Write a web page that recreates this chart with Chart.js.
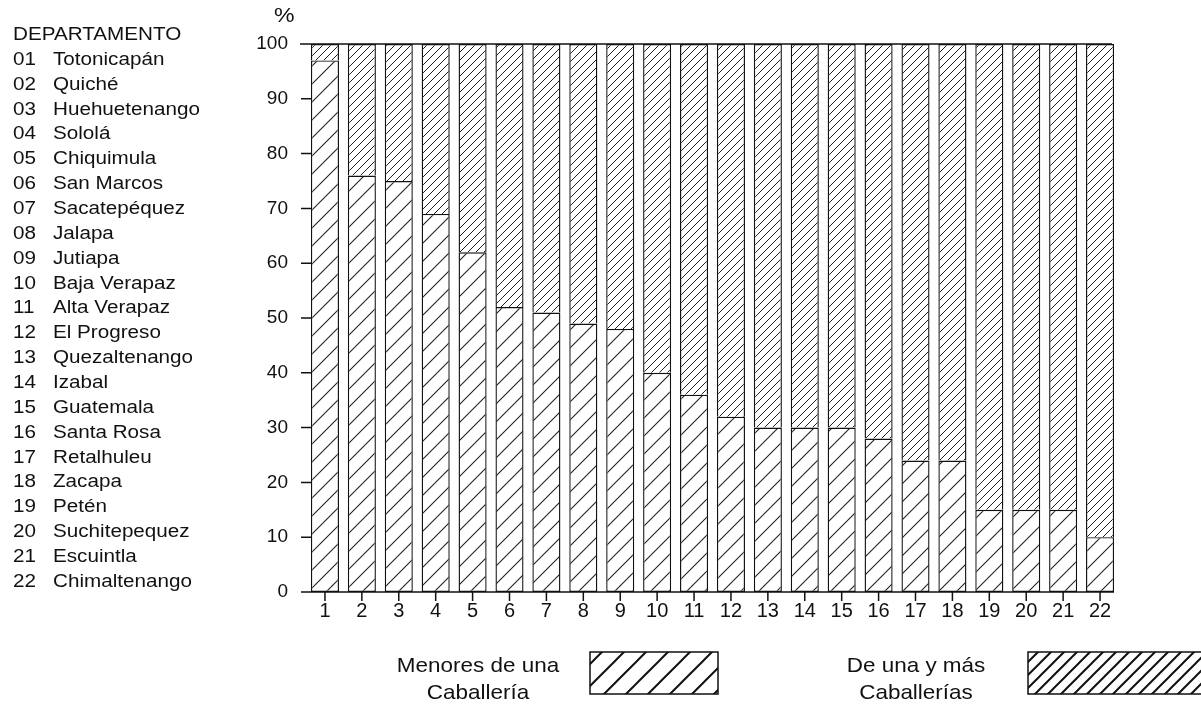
<!DOCTYPE html>
<html>
<head>
<meta charset="utf-8">
<script src="https://cdn.jsdelivr.net/npm/chart.js@4.4.0/dist/chart.umd.min.js"></script>
<style>
html, body { margin: 0; padding: 0; background: #fff; }
body { width: 1201px; height: 727px; position: relative; overflow: hidden;
       font-family: "Liberation Sans", Arial, Helvetica, sans-serif; color: #111; }
#chart { position: absolute; left: 0; top: 0; }
.row { position: absolute; left: 0; height: 24.86px; line-height: 24.86px; font-size: 17.5px; white-space: nowrap; }
.row span { position: absolute; top: 0; transform: scaleX(1.18); transform-origin: left center; }
.pct { position: absolute; left: 274px; top: 3px; font-size: 21px; transform: scaleX(1.1); transform-origin: left top; }
.leg { position: absolute; width: 240px; text-align: center; font-size: 21px; line-height: 27px;
       transform: scaleX(1.07); transform-origin: center center; }
</style>
</head>
<body>
<canvas id="chart" width="1201" height="727"></canvas>
<div class="pct">%</div>
<div id="depts"></div>
<div class="leg" style="left:358px; top:651px;">Menores de una<br>Caballería</div>
<div class="leg" style="left:796px; top:651px;">De una y más<br>Caballerías</div>
<script>
var categories = ['1', '2', '3', '4', '5', '6', '7', '8', '9', '10', '11',
                  '12', '13', '14', '15', '16', '17', '18', '19', '20', '21', '22'];

// % of farms smaller than one caballería (lower part of each bar)
var menores = [97, 76, 75, 69, 62, 52, 51, 49, 48, 40, 36,
               32, 30, 30, 30, 28, 24, 24, 15, 15, 15, 10];

// % of farms of one caballería or more (upper part)
var mayores = [3, 24, 25, 31, 38, 48, 49, 51, 52, 60, 64,
               68, 70, 70, 70, 72, 76, 76, 85, 85, 85, 90];

var deptCodes = ['01', '02', '03', '04', '05', '06', '07', '08', '09', '10', '11',
                 '12', '13', '14', '15', '16', '17', '18', '19', '20', '21', '22'];
var deptNames = ['Totonicapán', 'Quiché', 'Huehuetenango', 'Sololá', 'Chiquimula',
                 'San Marcos', 'Sacatepéquez', 'Jalapa', 'Jutiapa', 'Baja Verapaz',
                 'Alta Verapaz', 'El Progreso', 'Quezaltenango', 'Izabal', 'Guatemala',
                 'Santa Rosa', 'Retalhuleu', 'Zacapa', 'Petén', 'Suchitepequez',
                 'Escuintla', 'Chimaltenango'];

// left-hand list of departments
var list = document.getElementById('depts');
function addRow(top, code, name) {
    var r = document.createElement('div');
    r.className = 'row';
    r.style.top = top + 'px';
    if (code) {
        var a = document.createElement('span');
        a.style.left = '13px';
        a.textContent = code;
        r.appendChild(a);
    }
    var b = document.createElement('span');
    b.style.left = code ? '53px' : '13px';
    b.textContent = name;
    r.appendChild(b);
    list.appendChild(r);
}
addRow(22, null, 'DEPARTAMENTO');
deptNames.forEach(function (n, i) {
    addRow(22 + 24.86 * (i + 1), deptCodes[i], n);
});

// diagonal "/" hatch
function hatch(size, lw, color) {
    var c = document.createElement('canvas');
    c.width = size; c.height = size;
    var g = c.getContext('2d');
    g.fillStyle = '#fff';
    g.fillRect(0, 0, size, size);
    g.strokeStyle = color;
    g.lineWidth = lw;
    g.beginPath();
    g.moveTo(-2, size + 2); g.lineTo(size + 2, -2);
    g.moveTo(-2, 2); g.lineTo(2, -2);
    g.moveTo(size - 2, size + 2); g.lineTo(size + 2, size - 2);
    g.stroke();
    return document.getElementById('chart').getContext('2d').createPattern(c, 'repeat');
}

var sparse = hatch(18, 1.1, '#222');
var dense = hatch(8, 1, '#222');
var legSparse = hatch(22, 2, '#111');
var legDense = hatch(13, 2, '#111');

var framePlugin = {
    id: 'frame',
    afterDraw: function (chart) {
        var ctx = chart.ctx, xs = chart.scales.x, ys = chart.scales.y, a = chart.chartArea;
        var top = ys.getPixelForValue(100), bot = ys.getPixelForValue(0);
        ctx.save();
        ctx.strokeStyle = '#111';
        ctx.lineWidth = 1.5;
        ctx.beginPath();
        ctx.moveTo(a.left - 6.5, top); ctx.lineTo(a.right - 6.5, top);
        ctx.moveTo(a.left - 5.5, bot); ctx.lineTo(a.right - 4.5, bot);
        ys.ticks.forEach(function (t) {
            var py = ys.getPixelForValue(t.value);
            ctx.moveTo(a.left - 5.5, py); ctx.lineTo(a.left + 4.5, py);
        });
        categories.forEach(function (c, i) {
            var px = xs.getPixelForValue(i);
            ctx.moveTo(px, bot); ctx.lineTo(px, bot + 9);
        });
        ctx.stroke();

        // legend swatches
        ctx.fillStyle = legSparse;
        ctx.fillRect(590, 652, 128, 42);
        ctx.strokeRect(590, 652, 128, 42);
        ctx.fillStyle = legDense;
        ctx.fillRect(1028, 652, 180, 42);
        ctx.strokeRect(1028, 652, 180, 42);
        ctx.restore();
    }
};

new Chart(document.getElementById('chart'), {
    type: 'bar',
    data: {
        labels: categories,
        datasets: [
            {
                label: 'Menores de una Caballería',
                data: menores,
                backgroundColor: sparse,
                borderColor: '#111',
                borderWidth: 1.4,
                borderSkipped: false
            },
            {
                label: 'De una y más Caballerías',
                data: mayores,
                backgroundColor: dense,
                borderColor: '#111',
                borderWidth: 1.4,
                borderSkipped: 'bottom'
            }
        ]
    },
    options: {
        responsive: false,
        animation: false,
        devicePixelRatio: 1,
        layout: { padding: { top: 44, left: 0, right: 82.5, bottom: 0 } },
        datasets: { bar: { barPercentage: 0.76, categoryPercentage: 1 } },
        plugins: { legend: { display: false }, tooltip: { enabled: false } },
        scales: {
            x: {
                stacked: true,
                grid: { display: false, drawTicks: false },
                border: { display: false },
                ticks: { color: '#111', padding: 7, maxRotation: 0,
                         font: { family: '"Liberation Sans", Arial, sans-serif', size: 20 } },
                afterFit: function (s) { s.height = 135; }
            },
            y: {
                stacked: true,
                min: 0,
                max: 100,
                grid: { display: false, drawTicks: false },
                border: { display: false },
                ticks: { stepSize: 10, color: '#111', padding: 18.5,
                         font: { family: '"Liberation Sans", Arial, sans-serif', size: 19 } },
                afterFit: function (s) { s.width = 306.5; }
            }
        }
    },
    plugins: [framePlugin]
});
</script>
</body>
</html>
